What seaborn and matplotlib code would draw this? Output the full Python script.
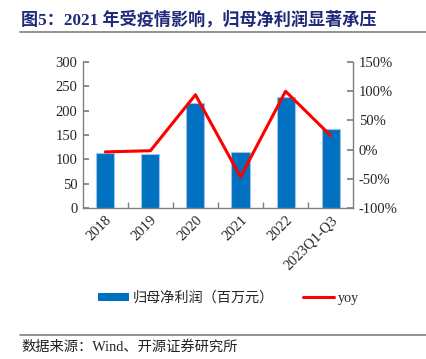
import matplotlib
matplotlib.use("Agg")
import matplotlib.pyplot as plt
import seaborn as sns
import pandas as pd
from matplotlib.ticker import FuncFormatter, MultipleLocator
from matplotlib.lines import Line2D
from matplotlib.patches import Patch

# 数据
years = ['2018', '2019', '2020', '2021', '2022', '2023Q1-Q3']
net_profit = [113, 110, 216, 114, 229, 162]   # 归母净利润（百万元）
yoy = [-4, -2, 94, -47, 100, 24]               # 同比 %

sns.set_theme(style="white")
plt.rcParams['font.family'] = ['Liberation Serif', 'Noto Sans CJK SC', 'DejaVu Sans']

BLUE = '#0070C0'
RED = '#FF0000'
SPINE = '#808080'
MIXED = ['Liberation Serif', 'Noto Sans CJK SC']

df = pd.DataFrame({'year': years, 'profit': net_profit, 'yoy': yoy})

fig = plt.figure(figsize=(4.27, 3.59), dpi=100)
ax = fig.add_axes([0.194, 0.421, 0.633, 0.406])

sns.barplot(data=df, x='year', y='profit', color=BLUE, width=0.4,
            edgecolor='#9DC3E6', linewidth=0.8, saturation=1, ax=ax)
ax.set_ylim(0, 300)
ax.yaxis.set_major_locator(MultipleLocator(50))
ax.set_xlim(-0.5, len(years) - 0.5)
ax.set_xlabel('')
ax.set_ylabel('')

ax2 = ax.twinx()
sns.lineplot(x=list(range(len(years))), y=yoy, color=RED, linewidth=2.2, ax=ax2)
ax2.set_ylim(-100, 150)
ax2.yaxis.set_major_locator(MultipleLocator(50))
ax2.yaxis.set_major_formatter(FuncFormatter(lambda v, p: f'{v:.0f}%'))
ax2.set_xlim(-0.5, len(years) - 0.5)

for a in (ax, ax2):
    for s in a.spines.values():
        s.set_visible(False)
ax.spines['left'].set_visible(True)
ax.spines['bottom'].set_visible(True)
ax2.spines['right'].set_visible(True)
for s in (ax.spines['left'], ax.spines['bottom'], ax2.spines['right']):
    s.set_color(SPINE)
    s.set_linewidth(1.0)

# x 刻度：类别边界，朝内
ax.set_xticks([i + 0.5 for i in range(len(years) - 1)], minor=True)
ax.set_xticks(range(len(years)))
ax.set_xticklabels(years, rotation=45, ha='right', rotation_mode='anchor', fontsize=10.5)
ax.tick_params(axis='x', which='major', length=0, pad=4)
ax.tick_params(axis='x', which='minor', direction='in', length=4, color=SPINE, bottom=True)
ax.tick_params(axis='y', direction='in', length=4, color=SPINE, labelsize=10.5, left=True, pad=4)
ax2.tick_params(axis='y', direction='in', length=4, color=SPINE, labelsize=10.5, right=True, pad=4)

# 标题与分隔线
fig.text(0.05, 0.945, '图5：2021 年受疫情影响，归母净利润显著承压', fontsize=12.3,
         fontweight='bold', color='#1F2A7A', va='center', family=MIXED)
fig.add_artist(Line2D([0.047, 1.0], [0.911, 0.911], color='#7F7F7F', linewidth=1.2))
fig.add_artist(Line2D([0.047, 1.0], [0.068, 0.068], color='#7F7F7F', linewidth=1.2))
fig.text(0.05, 0.033, '数据来源：Wind、开源证券研究所', fontsize=10.3, color='#222222',
         va='center', family=MIXED)

handles = [Patch(facecolor=BLUE, edgecolor='none'),
           Line2D([], [], color=RED, linewidth=2.2)]
labels = ['归母净利润（百万元）', 'yoy']
fig.legend(handles, labels, loc='center', bbox_to_anchor=(0.535, 0.17), ncol=2,
           frameon=False, handlelength=2.2, handleheight=0.5,
           columnspacing=2.0, handletextpad=0.3,
           prop={'family': MIXED, 'size': 10.2})

fig.savefig('out.png', dpi=100)
